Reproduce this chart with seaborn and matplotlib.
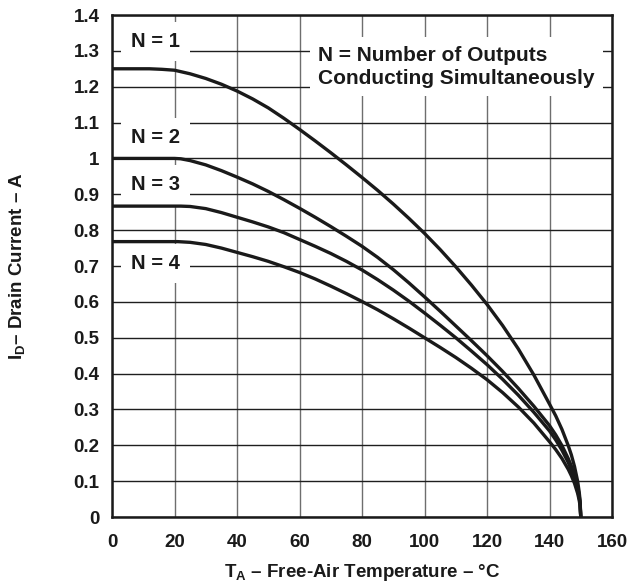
import numpy as np
import pandas as pd
import matplotlib
matplotlib.use("Agg")
import matplotlib.pyplot as plt
import seaborn as sns

# ---- data (T in degC, I in A) ----
t_n1 = [0, 12, 16, 20, 25, 30, 35, 40, 45, 50, 55, 60, 65, 70, 75, 80, 85, 90, 95,
        100, 105, 110, 115, 120, 125, 130, 135, 140, 142, 144, 146, 147, 148, 149,
        149.5, 149.8, 150]
i_n1 = [1.25, 1.25, 1.2485, 1.246, 1.236, 1.223, 1.207, 1.188, 1.166, 1.141, 1.112,
        1.081, 1.049, 1.016, 0.982, 0.947, 0.911, 0.873, 0.833, 0.791, 0.746, 0.698,
        0.647, 0.593, 0.534, 0.469, 0.396, 0.315, 0.282, 0.244, 0.199, 0.173, 0.141,
        0.100, 0.070, 0.045, 0.0]

t_n2 = [0, 20, 22, 25, 30, 35, 40, 45, 50, 55, 60, 65, 70, 75, 80, 85, 90, 95, 100,
        105, 110, 115, 120, 125, 130, 135, 140, 142, 144, 146, 147, 148, 149, 149.5,
        149.8, 150]
i_n2 = [1.0, 1.0, 0.999, 0.994, 0.982, 0.966, 0.948, 0.929, 0.908, 0.885, 0.861,
        0.836, 0.810, 0.783, 0.755, 0.724, 0.690, 0.653, 0.614, 0.574, 0.533, 0.492,
        0.450, 0.406, 0.359, 0.309, 0.255, 0.229, 0.199, 0.163, 0.142, 0.117, 0.084,
        0.060, 0.038, 0.0]

t_n3 = [0, 22, 25, 30, 35, 40, 45, 50, 55, 60, 65, 70, 75, 80, 85, 90, 95, 100, 105,
        110, 115, 120, 125, 130, 135, 140, 142, 144, 146, 147, 148, 149, 149.5,
        149.8, 150]
i_n3 = [0.867, 0.867, 0.866, 0.860, 0.849, 0.836, 0.823, 0.809, 0.793, 0.774, 0.755,
        0.735, 0.713, 0.689, 0.662, 0.633, 0.602, 0.569, 0.535, 0.500, 0.463, 0.425,
        0.384, 0.340, 0.292, 0.240, 0.215, 0.186, 0.152, 0.131, 0.107, 0.076, 0.054,
        0.034, 0.0]

t_n4 = [0, 21, 25, 30, 35, 40, 45, 50, 55, 60, 65, 70, 75, 80, 85, 90, 95, 100, 105,
        110, 115, 120, 125, 130, 135, 140, 142, 144, 146, 147, 148, 149, 149.5,
        149.8, 150]
i_n4 = [0.768, 0.768, 0.766, 0.760, 0.750, 0.738, 0.726, 0.713, 0.698, 0.682, 0.664,
        0.644, 0.623, 0.601, 0.578, 0.553, 0.527, 0.500, 0.473, 0.445, 0.415, 0.383,
        0.347, 0.307, 0.262, 0.210, 0.188, 0.163, 0.133, 0.115, 0.094, 0.066, 0.047,
        0.030, 0.0]

series_names = ["N = 1", "N = 2", "N = 3", "N = 4"]
x_ticks = [0, 20, 40, 60, 80, 100, 120, 140, 160]
x_tick_labels = ["0", "20", "40", "60", "80", "100", "120", "140", "160"]
y_ticks = [0, 0.1, 0.2, 0.3, 0.4, 0.5, 0.6, 0.7, 0.8, 0.9, 1.0, 1.1, 1.2, 1.3, 1.4]
y_tick_labels = ["0", "0.1", "0.2", "0.3", "0.4", "0.5", "0.6", "0.7", "0.8", "0.9",
                 "1", "1.1", "1.2", "1.3", "1.4"]
legend_text = "N = Number of Outputs\nConducting Simultaneously"

frames = []
for name, t, i in zip(series_names, [t_n1, t_n2, t_n3, t_n4], [i_n1, i_n2, i_n3, i_n4]):
    frames.append(pd.DataFrame({"T": t, "I": i, "N": name}))
df = pd.concat(frames, ignore_index=True)

# ---- style ----
sns.set_theme(style="white")
plt.rcParams["font.family"] = ["Liberation Sans", "DejaVu Sans"]
plt.rcParams["font.weight"] = "bold"
plt.rcParams["mathtext.fontset"] = "custom"
plt.rcParams["mathtext.rm"] = "Liberation Sans:bold"
plt.rcParams["mathtext.it"] = "Liberation Sans:bold"
plt.rcParams["mathtext.bf"] = "Liberation Sans:bold"
plt.rcParams["mathtext.default"] = "rm"

ink = "#1a1a1a"
fig = plt.figure(figsize=(6.42, 5.84), dpi=100)
ax = fig.add_axes([112 / 642, 1 - 517 / 584, 500 / 642, 502 / 584])

sns.lineplot(data=df, x="T", y="I", hue="N", palette=[ink] * 4,
             legend=False, linewidth=2.4, estimator=None, ax=ax, zorder=4)

ax.set_xlim(0, 160)
ax.set_ylim(0, 1.4)
ax.set_xticks(x_ticks)
ax.set_xticklabels(x_tick_labels)
ax.set_yticks(y_ticks)
ax.set_yticklabels(y_tick_labels)
ax.tick_params(axis="both", length=0, labelsize=13.5)
ax.tick_params(axis="y", pad=9)
ax.tick_params(axis="x", pad=12)
for lab in ax.get_xticklabels() + ax.get_yticklabels():
    lab.set_fontweight("bold")
    lab.set_color(ink)

ax.set_axisbelow(True)
ax.xaxis.grid(True, color="#6e6e6e", linewidth=1.0)
ax.yaxis.grid(True, color="#1e1e1e", linewidth=1.0)
for s in ax.spines.values():
    s.set_color(ink)
    s.set_linewidth(1.8)
    s.set_zorder(6)

ax.set_xlabel("T$_{A}$ – Free-Air Temperature – °C", fontsize=13.5,
              fontweight="bold", color=ink, labelpad=8)
ax.set_ylabel("I$_{D}$– Drain Current – A", fontsize=13.5,
              fontweight="bold", color=ink)
ax.yaxis.set_label_coords(-0.17, 0.5)

box = dict(facecolor="white", edgecolor="none", boxstyle="square,pad=0.5")
label_pos = [(14, 1.325), (14, 1.058), (14, 0.926), (14, 0.707)]
for name, (tx, ty) in zip(series_names, label_pos):
    ax.text(tx, ty, name, ha="center", va="center", fontsize=14.5,
            fontweight="bold", color=ink, bbox=box, zorder=3)

ax.text(65.9, 1.256, legend_text, ha="left", va="center", multialignment="left",
        fontsize=15, fontweight="bold", color=ink, linespacing=1.25,
        bbox=dict(facecolor="white", edgecolor="none", boxstyle="square,pad=0.4"),
        zorder=3)

fig.savefig("out.png", dpi=100)
